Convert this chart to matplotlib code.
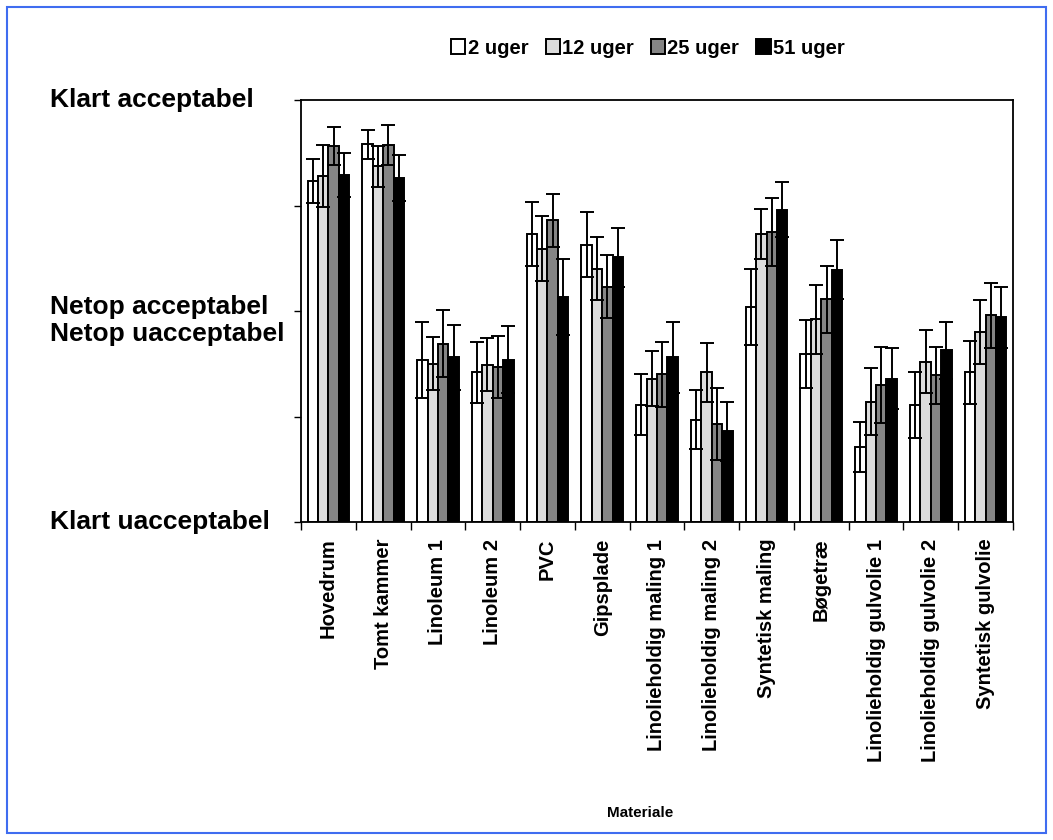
import matplotlib.pyplot as plt
import matplotlib.transforms as mtransforms
import numpy as np

plt.rcParams['font.family'] = ['Liberation Sans', 'DejaVu Sans']
plt.rcParams['font.weight'] = 'bold'

materialer = ["Hovedrum", "Tomt kammer", "Linoleum 1", "Linoleum 2", "PVC", "Gipsplade",
              "Linolieholdig maling 1", "Linolieholdig maling 2", "Syntetisk maling",
              "Bøgetræ", "Linolieholdig gulvolie 1", "Linolieholdig gulvolie 2",
              "Syntetisk gulvolie"]
serier = ["2 uger", "12 uger", "25 uger", "51 uger"]

# middelvaerdier (0 = klart uacceptabel, 4 = klart acceptabel)
uger2 = [3.23, 3.58, 1.54, 1.42, 2.73, 2.63, 1.11, 0.97, 2.04, 1.59, 0.71, 1.11, 1.42]
uger12 = [3.28, 3.37, 1.50, 1.49, 2.59, 2.40, 1.36, 1.42, 2.73, 1.92, 1.14, 1.52, 1.80]
uger25 = [3.56, 3.57, 1.69, 1.47, 2.86, 2.23, 1.40, 0.93, 2.75, 2.11, 1.30, 1.39, 1.96]
uger51 = [3.29, 3.26, 1.56, 1.54, 2.13, 2.51, 1.56, 0.86, 2.96, 2.39, 1.36, 1.63, 1.94]

# spredning (fejlstreger)
fejl2 = [0.21, 0.14, 0.36, 0.29, 0.30, 0.31, 0.29, 0.28, 0.36, 0.32, 0.24, 0.31, 0.30]
fejl12 = [0.29, 0.19, 0.25, 0.25, 0.31, 0.30, 0.26, 0.28, 0.24, 0.33, 0.32, 0.30, 0.30]
fejl25 = [0.18, 0.19, 0.32, 0.29, 0.25, 0.30, 0.31, 0.34, 0.32, 0.32, 0.36, 0.27, 0.31]
fejl51 = [0.21, 0.22, 0.31, 0.32, 0.36, 0.28, 0.34, 0.28, 0.26, 0.28, 0.29, 0.27, 0.29]

vaerdier = [uger2, uger12, uger25, uger51]
fejl = [fejl2, fejl12, fejl25, fejl51]
farver = ["white", "#dcdcdc", "#858585", "black"]

fig = plt.figure(figsize=(10.53, 8.4), dpi=100)
ax = fig.add_axes([301/1053, 1-522/840, (1013-301)/1053, (522-100)/840])

ind = np.arange(len(materialer))
width = 0.19
for i in range(4):
    pos = ind + (i - 1.5) * width
    ax.bar(pos, vaerdier[i], width, color=farver[i], edgecolor="black",
           linewidth=1.4, label=serier[i], zorder=2)
for i in range(4):
    pos = ind + (i - 1.5) * width
    ax.errorbar(pos, vaerdier[i], yerr=fejl[i], fmt="none", ecolor="black",
                elinewidth=1.4, capsize=5, capthick=1.4, zorder=3)

ax.set_xlim(-0.5, len(materialer) - 0.5)
ax.set_ylim(0, 4)
ax.set_yticks([0, 1, 2, 3, 4])
ax.set_yticklabels([])
ax.tick_params(axis='y', direction='out', length=5, width=1)
ax.set_xticks(ind)
ax.set_xticklabels(materialer, rotation=90, fontsize=14.5, fontweight='bold')
ax.set_xticks(np.arange(-0.5, len(materialer)), minor=True)
ax.tick_params(axis='x', which='major', length=0, pad=12)
ax.tick_params(axis='x', which='minor', direction='out', length=6, width=1)
for s in ax.spines.values():
    s.set_linewidth(1.3)

trans = mtransforms.blended_transform_factory(fig.transFigure, ax.transData)
ax.text(50/1053, 4.0, "Klart acceptabel", transform=trans, fontsize=19,
        fontweight='bold', va='center', ha='left')
ax.text(50/1053, 1.91, "Netop acceptabel\nNetop uacceptabel", transform=trans,
        fontsize=19, fontweight='bold', va='center', ha='left', linespacing=1.2)
ax.text(50/1053, 0.0, "Klart uacceptabel", transform=trans, fontsize=19,
        fontweight='bold', va='center', ha='left')

fig.text(640/1053, 1-813/840, "Materiale", fontsize=11, fontweight='bold',
         ha='center', va='center')

fig.legend(loc='center', bbox_to_anchor=(648/1053, 1-48/840), ncol=4,
           frameon=False, fontsize=14.5, handlelength=0.7, handleheight=0.7,
           handletextpad=0.12, columnspacing=0.85, borderaxespad=0)

ramme = plt.Rectangle((7/1053, 7/840), 1039/1053, 826/840, transform=fig.transFigure,
                      fill=False, edgecolor="#3f6df0", linewidth=1.5)
fig.patches.append(ramme)

plt.savefig("out.png", dpi=100)
